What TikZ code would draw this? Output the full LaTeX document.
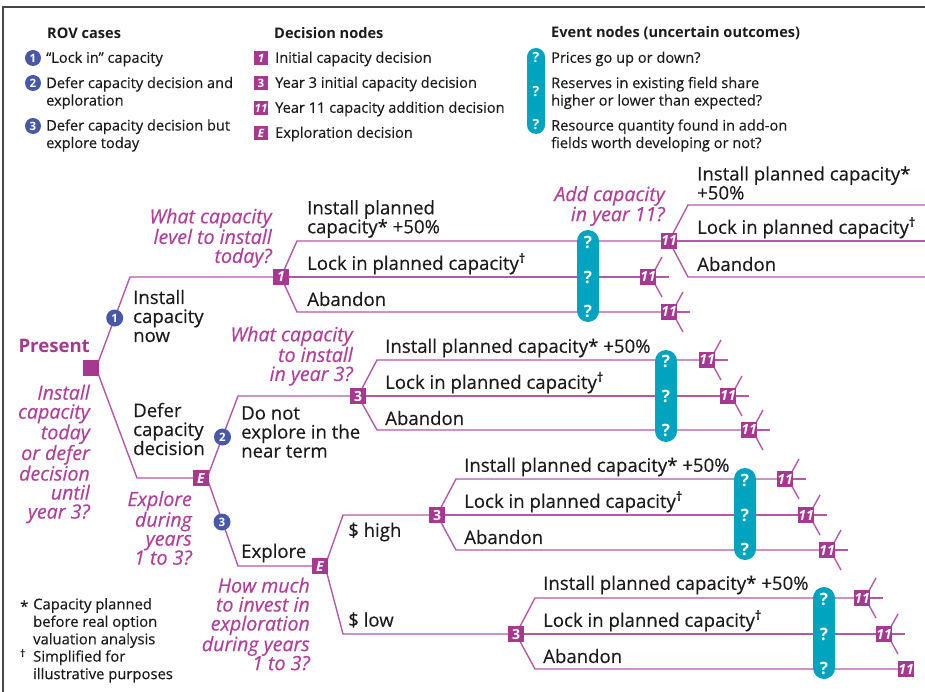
\documentclass[tikz,border=0pt]{standalone}
\usepackage{fontspec}
\setmainfont{Open Sans}[UprightFeatures={FakeBold=0.35},ItalicFeatures={FakeBold=0.35}]
\definecolor{txtc}{RGB}{30,26,27}
\definecolor{magsq}{RGB}{166,56,146}
\definecolor{magline}{RGB}{182,88,170}
\definecolor{magtxt}{RGB}{176,64,156}
\definecolor{bluec}{RGB}{72,88,168}
\definecolor{cyanc}{RGB}{0,164,190}
\definecolor{borderc}{RGB}{70,70,70}
\newcommand\Fmain{\fontsize{18.6}{19}\selectfont}
\newcommand\Fital{\fontsize{19.6}{19}\selectfont\itshape}
\newcommand\Fleg{\fontsize{14.6}{17.5}\selectfont}
\newcommand\Fnote{\fontsize{14.8}{17.5}\selectfont}
\newcommand\Fdec{\fontsize{14}{14}\selectfont\bfseries\itshape}
\newcommand\Fdecs{\fontsize{11.5}{11.5}\selectfont\bfseries\itshape}
\newcommand\Frov{\fontsize{11.5}{11.5}\selectfont\bfseries}
\newcommand\Fq{\fontsize{17}{17}\selectfont\bfseries}
\newcommand\Fqs{\fontsize{14}{14}\selectfont\bfseries}
\newcommand\dg{\textsuperscript{\bfseries †}}
\pgfdeclarelayer{bg}
\pgfsetlayers{bg,main}
\begin{document}
\begin{tikzpicture}[x=1pt,y=-1pt,
  lbl/.style={anchor=west,inner sep=0pt,font=\Fmain,text=txtc,align=left,yshift=-2pt},
  qlbl/.style={anchor=east,inner sep=0pt,font=\Fital,text=magtxt,align=right,yshift=-1pt},
  leg/.style={anchor=west,inner sep=0pt,font=\Fleg,text=txtc,align=left,yshift=-1pt},
  legh/.style={leg,font=\Fleg\bfseries},
  note/.style={anchor=west,inner sep=0pt,font=\Fnote,text=txtc,align=left},
  dnode/.style={fill=magsq,minimum size=16.5pt,inner sep=0pt,text=white,font=\Fdec},
  dsmall/.style={dnode,minimum size=14pt,font=\Fdecs},
  rov/.style={circle,fill=bluec,minimum size=17pt,inner sep=0pt,text=white,font=\Frov},
  rovs/.style={rov,minimum size=16pt},
  pill/.style={fill=cyanc,minimum width=22pt,rounded corners=11pt,inner sep=0pt},
  qm/.style={text=white,font=\Fq,inner sep=0pt},
  qms/.style={text=white,font=\Fqs,inner sep=0pt},
  br/.style={draw=magline,line width=1.4pt},
  border/.style={draw=borderc,line width=1.6pt}
]
\useasboundingbox (0,0) rectangle (925,692);
\draw[border] (3,692) -- (3,7) -- (925,7);

% ---------------- legend ----------------
\node[legh] (h1) at (47,32) {ROV cases};
\node[rovs] (l1) at (33,58) {1};
\node[leg] (t1) at (46,58) {“Lock in” capacity};
\node[rovs] (l2) at (33,83) {2};
\node[leg] (t2) at (46,92) {Defer capacity decision and\\exploration};
\node[rovs] (l3) at (33,126) {3};
\node[leg] (t3) at (46,134.5) {Defer capacity decision but\\explore today};

\node[legh] (h2) at (274,32) {Decision nodes};
\node[dsmall] (d1) at (261,58) {1};
\node[leg] (u1) at (275,58) {Initial capacity decision};
\node[dsmall,font=\fontsize{11.5}{11.5}\selectfont\bfseries] (d2) at (261,83) {3};
\node[leg] (u2) at (275,83) {Year 3 initial capacity decision};
\node[dsmall] (d3) at (261,108) {11};
\node[leg] (u3) at (275,108) {Year 11 capacity addition decision};
\node[dsmall] (d4) at (261,133) {E};
\node[leg] (u4) at (275,133) {Exploration decision};

\node[legh] (h3) at (551,32) {Event nodes (uncertain outcomes)};
\node[pill,minimum width=18pt,rounded corners=9pt,minimum height=86pt] (lp) at (536,91) {};
\node[qms] at (536,58) {?};
\node[qms] at (536,92) {?};
\node[qms] at (536,125) {?};
\node[leg] (v1) at (551,58) {Prices go up or down?};
\node[leg] (v2) at (551,92) {Reserves in existing field share\\higher or lower than expected?};
\node[leg] (v3) at (551,134.5) {Resource quantity found in add-on\\fields worth developing or not?};

% ---------------- footnotes ----------------
\node[note] (f1m) at (20,606) {*};
\node[note] (f1) at (33,623) {Capacity planned\\before real option\\valuation analysis};
\node[note] (f2m) at (20,656) {\dg};
\node[note] (f2) at (33,666.5) {Simplified for\\illustrative purposes};

% ---------------- tree nodes ----------------
\node[dnode] (P) at (91,368) {};
\node[anchor=east,inner sep=0pt,font=\Fmain\bfseries,text=magsq,yshift=-1pt] (pres) at (90,345) {Present};
\node[qlbl] (q0) at (90,453) {Install\\capacity\\today\\or defer\\decision\\until\\year 3?};

\coordinate (A1) at (130,277);
\coordinate (A2) at (137,478);
\node[rov] (c1) at (114.7,318) {1};
\node[lbl] (s1) at (133,314) {Install\\capacity\\now};
\node[lbl] (s2) at (133,427) {Defer\\capacity\\decision};

\node[dnode] (N1) at (281,277) {1};
\node[qlbl] (q1) at (272,237) {What capacity\\level to install\\today?};
\coordinate (N1u) at (297,241);
\coordinate (N1d) at (297,312);
\node[lbl] (n1a) at (307,217) {Install planned\\capacity* +50\%};
\node[lbl] (n1b) at (307,262) {Lock in planned capacity\dg};
\node[lbl] (n1c) at (307,297) {Abandon};

\node[dnode] (E1) at (201,478) {E};
\node[qlbl] (q2) at (192,527) {Explore\\during\\years\\1 to 3?};
\coordinate (B1) at (238,396);
\coordinate (B2) at (238,566);
\node[rov] (c2) at (222.5,437) {2};
\node[rov] (c3) at (222,522) {3};
\node[lbl] (s3) at (241,430) {Do not\\explore in the\\near term};
\node[lbl] (s4) at (241,551) {Explore};

\node[dnode,font=\fontsize{14}{14}\selectfont\bfseries] (N3a) at (358,396) {3};
\node[qlbl] (q3) at (353,355) {What capacity\\to install\\in year 3?};
\coordinate (N3au) at (377,360);
\coordinate (N3ad) at (377,430);
\node[lbl] (a1) at (385,346) {Install planned capacity* +50\%};
\node[lbl] (a2) at (385,381) {Lock in planned capacity\dg};
\node[lbl] (a3) at (385,416) {Abandon};

\node[dnode] (E2) at (320,566) {E};
\node[qlbl] (q4) at (310,623) {How much\\to invest in\\exploration\\during years\\1 to 3?};
\coordinate (C1) at (343,515);
\coordinate (C2) at (343,634);
\node[lbl] (s5) at (348,530) {\$ high};
\node[lbl] (s6) at (348,618) {\$ low};

\node[dnode,font=\fontsize{14}{14}\selectfont\bfseries] (N3b) at (437,515) {3};
\coordinate (N3bu) at (456,479);
\coordinate (N3bd) at (456,550);
\node[lbl] (b1) at (464,465) {Install planned capacity* +50\%};
\node[lbl] (b2) at (464,500) {Lock in planned capacity\dg};
\node[lbl] (b3) at (464,535) {Abandon};

\node[dnode,font=\fontsize{14}{14}\selectfont\bfseries] (N3c) at (516,634) {3};
\coordinate (N3cu) at (535,598);
\coordinate (N3cd) at (535,669);
\node[lbl] (e1) at (543,583) {Install planned capacity* +50\%};
\node[lbl] (e2) at (543,619) {Lock in planned capacity\dg};
\node[lbl] (e3) at (543,654) {Abandon};

% event pills
\node[pill,minimum height=92pt] (ev1) at (588,276) {};
\node[pill,minimum height=92pt] (ev2) at (666,396) {};
\node[pill,minimum height=92pt] (ev3) at (745,514) {};
\node[pill,minimum height=92pt] (ev4) at (824,633) {};
\foreach \ev/\ya/\yb/\yc in {ev1/242/277/311, ev2/361/396/430, ev3/480/515/549, ev4/599/634/668}{
  \node[qm] at (\ev.center |- 0,\ya) {?};
  \node[qm] at (\ev.center |- 0,\yb) {?};
  \node[qm] at (\ev.center |- 0,\yc) {?};
}

% year-11 nodes
\node[dnode] (T11) at (669,241) {11};
\node[qlbl] (q5) at (665,205) {Add capacity\\in year 11?};
\coordinate (T11u) at (688,205);
\coordinate (T11d) at (688,277);
\coordinate (R1) at (925,205);
\coordinate (R2) at (925,241);
\coordinate (R3) at (925,277);
\node[lbl] (t11a) at (697,181) {Install planned capacity*\\+50\%};
\node[lbl] (t11b) at (697,226) {Lock in planned capacity\dg};
\node[lbl] (t11c) at (697,262) {Abandon};

\foreach \n/\x/\y in {M1/648/277, M2/669/312, G21/707/360, G22/728/396, G23/749/430,
                      G31/785/479, G32/806/515, G33/827/550, G41/862/598, G42/884/634}{
  \node[dnode] (\n) at (\x,\y) {11};
  \begin{pgfonlayer}{bg}
    \draw[br] (\n.center) -- ++(21,0);
    \draw[br] ([xshift=3pt]\n.center) -- ++(11,-20);
    \draw[br] ([xshift=3pt]\n.center) -- ++(11,20);
  \end{pgfonlayer}
}
\node[dnode] (G43) at (906,669) {11};

% ---------------- connectors ----------------
\begin{pgfonlayer}{bg}
  \draw[br] ([xshift=5pt]P.center) -- (A1) -- (N1.center);
  \draw[br] ([xshift=5pt]P.center) -- (A2) -- (E1.center);
  \draw[br] (N1.center) -- (N1u) -- (T11.center);
  \draw[br] (N1.center) -- (M1.center);
  \draw[br] (N1.center) -- (N1d) -- (M2.center);
  \draw[br] (T11.center) -- (T11u) -- (R1);
  \draw[br] (T11.center) -- (R2);
  \draw[br] (T11.center) -- (T11d) -- (R3);
  \draw[br] ([xshift=6pt]E1.center) -- (B1) -- (N3a.center);
  \draw[br] ([xshift=6pt]E1.center) -- (B2) -- (E2.center);
  \draw[br] (N3a.center) -- (N3au) -- (G21.center);
  \draw[br] (N3a.center) -- (G22.center);
  \draw[br] (N3a.center) -- (N3ad) -- (G23.center);
  \draw[br] ([xshift=5pt]E2.center) -- (C1) -- (N3b.center);
  \draw[br] ([xshift=5pt]E2.center) -- (C2) -- (N3c.center);
  \draw[br] (N3b.center) -- (N3bu) -- (G31.center);
  \draw[br] (N3b.center) -- (G32.center);
  \draw[br] (N3b.center) -- (N3bd) -- (G33.center);
  \draw[br] (N3c.center) -- (N3cu) -- (G41.center);
  \draw[br] (N3c.center) -- (G42.center);
  \draw[br] (N3c.center) -- (N3cd) -- (G43.center);
\end{pgfonlayer}
\end{tikzpicture}
\end{document}
